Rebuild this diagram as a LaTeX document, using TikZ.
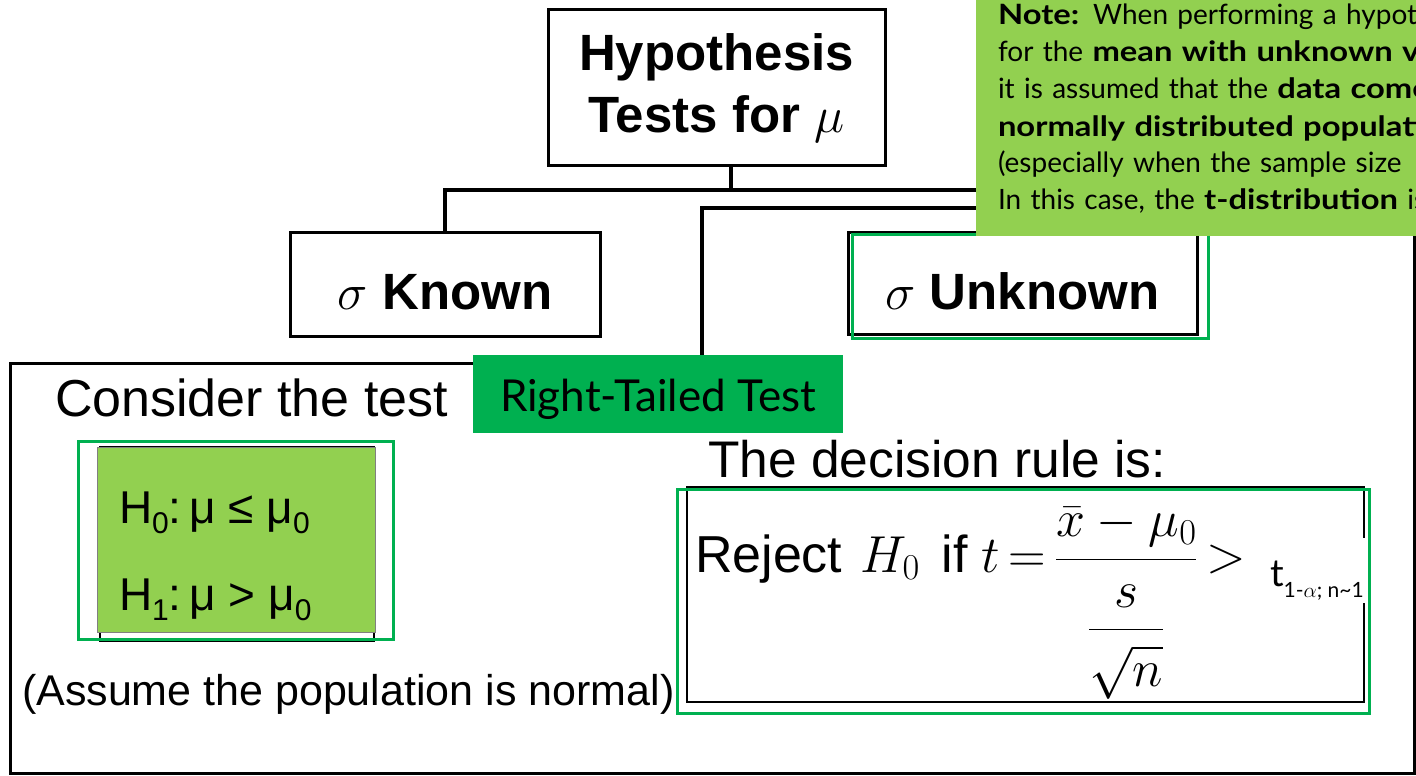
\RequirePackage{fix-cm}
\documentclass[tikz,border=0pt]{standalone}
\usepackage{amsmath}
\usepackage{fontspec}
\setmainfont{Liberation Sans}
\newfontfamily\gillfont{Lato}[BoldFeatures={FakeStretch=1.17}]
\definecolor{leafgreen}{HTML}{92D050}
\definecolor{officegreen}{HTML}{00B050}
\newcommand{\lowsub}[1]{\raisebox{-10pt}{\fontsize{30}{30}\selectfont #1}}

\begin{document}
\begin{tikzpicture}[x=1pt,y=-1pt,every node/.style={outer sep=0pt},
  tbox/.style={draw, line width=3pt, inner sep=0pt},
  gline/.style={draw=officegreen, line width=3pt, inner sep=0pt},
  conn/.style={line width=4pt},
  bigbold/.style={font=\bfseries\fontsize{51}{62}\selectfont}]

\useasboundingbox (0,0) rectangle (1416,776);
\fill[white] (0,0) rectangle (1416,776);

% outer frame
\draw[line width=3pt] (473,363) -- (10,363) -- (10,773) -- (1414,773) -- (1414,200);

\node[tbox, bigbold, align=center, minimum width=337pt, minimum height=155pt] (hyp) at (716.5,87.5) {Hypothesis\\Tests for $\mu$};
\node[tbox, bigbold, anchor=base, minimum width=310pt, text height=77pt, text depth=27pt] (known) at (445,309) {$\sigma$ Known};
\node[tbox, bigbold, anchor=base, minimum width=349pt, text height=77pt, text depth=25pt] (unknown) at (1022.5,309) {$\sigma$ Unknown};
\node[gline, minimum width=356pt, minimum height=104pt] (unknownhl) at (1030,286) {};

\coordinate (split) at (731,190);
\coordinate (behindnote) at (1100,208);
\coordinate (drop) at (702,208);
\draw[conn] (hyp.south -| split) -- (split);
\draw[conn] (split) -| (known.north);
\draw[conn] (split) -| (unknown.north);

\node[fill=officegreen, anchor=base, inner sep=0pt, minimum width=370pt, text height=56pt, text depth=22pt, font=\gillfont\fontsize{44}{50}\selectfont] (rt) at (658,411) {Right-Tailed Test};
\draw[conn] (behindnote) -- (drop) -- (drop |- rt.north);

\node[anchor=base west, inner sep=0pt, font=\fontsize{52}{62}\selectfont] (consider) at (55,416) {Consider the test};

% hypotheses
\node[draw, line width=1.5pt, minimum width=274pt, minimum height=194pt] (hshadow) at (237,544) {};
\node[fill=leafgreen, draw=black!50, line width=0.8pt, minimum width=278pt, minimum height=185pt] (hyps) at (236.5,539.5) {};
\node[anchor=base west, inner sep=0pt, font=\fontsize{46}{55}\selectfont] (h0) at (119,523) {H\lowsub{0}:\,μ ≤ μ\lowsub{0}};
\node[anchor=base west, inner sep=0pt, font=\fontsize{46}{55}\selectfont] (h1) at (119,610) {H\lowsub{1}:\,μ > μ\lowsub{0}};
\node[gline, minimum width=315pt, minimum height=198pt] (hypshl) at (235.5,540) {};

\node[anchor=base west, inner sep=0pt, font=\fontsize{43}{50}\selectfont] (assume) at (22,705) {(Assume the population is normal)};

% decision rule
\node[anchor=base west, inner sep=0pt, font=\fontsize{51.5}{62}\selectfont] (ruletitle) at (708,477) {The decision rule is:};
\node[tbox, line width=2pt, minimum width=677pt, minimum height=215pt] (rulebox) at (1025.5,594.5) {};
\node[anchor=base west, inner sep=0pt, font=\fontsize{52}{60}\selectfont] (rule) at (695,572) {Reject\hspace{18pt}$H_0$\hspace{22pt}if\hspace{14pt}$t\,{=}\,\dfrac{\bar{x}-\mu_0}{\dfrac{\rule{0pt}{45pt}s}{\rule{0pt}{53pt}\sqrt{n}}}\,{>}$};
\node[fill=white, anchor=base west, inner xsep=2pt, inner ysep=0pt, text height=48pt, text depth=17pt, font=\gillfont\fontsize{38}{38}\selectfont] (tcrit) at (1268,586) {t\raisebox{-11pt}{\fontsize{21}{21}\selectfont 1-$\alpha$; n\textasciitilde 1}};
\node[gline, minimum width=692pt, minimum height=224pt] (rulehl) at (1023,601) {};

% note
\node[fill=leafgreen, anchor=north west, minimum width=460pt, minimum height=236pt] (notebg) at (976,0) {};
\node[anchor=base west, inner sep=0pt, text width=600pt, align=left, font=\gillfont\fontsize{28}{37}\selectfont] (note) at (998,25) {\textbf{Note:} When performing a hypothesis\\
for the \textbf{mean with unknown variance}\\
it is assumed that the \textbf{data come}\\
\textbf{normally distributed population}\\
(especially when the sample size\\
In this case, the \textbf{t-distribution} is};
\end{tikzpicture}
\end{document}
